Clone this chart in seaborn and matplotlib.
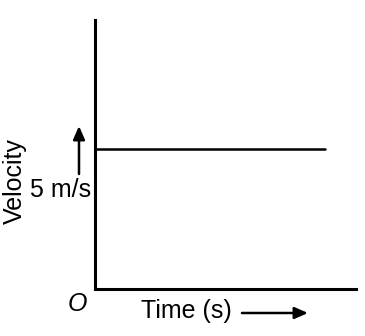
import matplotlib
matplotlib.use("Agg")
import matplotlib.pyplot as plt
import seaborn as sns
import pandas as pd

# Data: constant velocity of 5 m/s over time
time_s = [0.0, 8.8]
velocity = [5.0, 5.0]
velocity_label = "5 m/s"
x_label = "Time (s)"
y_label = "Velocity"
origin_label = "O"

sns.set_style("white")
plt.rcParams['font.family'] = ['Liberation Sans', 'DejaVu Sans']

W, H = 365, 336
fig = plt.figure(figsize=(W / 100, H / 100), dpi=100)
ax = fig.add_axes([95 / W, 47 / H, 261 / W, 269 / H])

df = pd.DataFrame({"t": time_s, "v": velocity})
sns.lineplot(data=df, x="t", y="v", ax=ax, color="black", linewidth=1.8)

ax.set_xlim(0, 10)
ax.set_ylim(0, 9.6)
ax.set_xticks([])
ax.set_yticks([])
ax.set_xlabel("")
ax.set_ylabel("")
for s in ["top", "right"]:
    ax.spines[s].set_visible(False)
for s in ["left", "bottom"]:
    ax.spines[s].set_color("black")
    ax.spines[s].set_linewidth(2.2)

def fx(px):
    return px / W

def fy(py):
    return 1 - py / H

fs = 18
tc = "black"
fig.text(fx(61), fy(190), velocity_label, ha="center", va="center", fontsize=fs, color=tc)
fig.text(fx(15), fy(181), y_label, ha="center", va="center", rotation=90, fontsize=fs, color=tc)
fig.text(fx(186), fy(311), x_label, ha="center", va="center", fontsize=fs, color=tc)
fig.text(fx(77), fy(304), origin_label, ha="center", va="center", fontsize=fs, style="italic", color=tc)

# arrows
fig.patches.append(matplotlib.patches.FancyArrowPatch(
    (fx(79), fy(174)), (fx(79), fy(126)), transform=fig.transFigure,
    arrowstyle="-|>,head_length=8,head_width=3.5", color="black", linewidth=1.8,
    shrinkA=0, shrinkB=0))
fig.patches.append(matplotlib.patches.FancyArrowPatch(
    (fx(242), fy(313)), (fx(308), fy(313)), transform=fig.transFigure,
    arrowstyle="-|>,head_length=8,head_width=3.5", color="black", linewidth=1.8,
    shrinkA=0, shrinkB=0))

fig.savefig("out.png", dpi=100)
